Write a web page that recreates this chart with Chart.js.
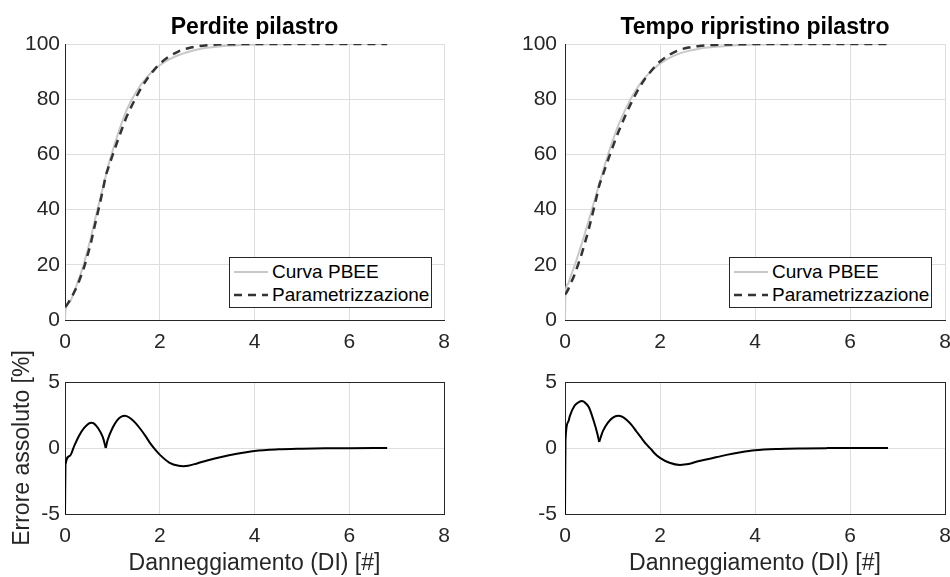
<!DOCTYPE html>
<html lang="it">
<head>
<meta charset="UTF-8">
<title>Perdite e tempo ripristino pilastro</title>
<script src="https://cdn.jsdelivr.net/npm/chart.js"></script>
<style>
  body { margin: 0; background: #fff; width: 950px; height: 577px; position: relative; overflow: hidden;
         font-family: Arial, "Liberation Sans", sans-serif; }
  canvas { position: absolute; }
  .legend { position: absolute; box-sizing: border-box; width: 203px; height: 51px; border: 1px solid #262626;
            background: #fff; font-size: 19px; color: #000; }
  .legend .row { position: absolute; left: 3px; height: 22px; display: flex; align-items: center; white-space: nowrap; }
  .legend svg { width: 35px; height: 10px; margin-right: 4px; }
</style>
</head>
<body>
<canvas id="topLeft" width="475" height="360" style="left:0;top:0"></canvas>
<canvas id="topRight" width="500" height="360" style="left:475px;top:0"></canvas>
<canvas id="botLeft" width="475" height="237" style="left:0;top:340px"></canvas>
<canvas id="botRight" width="500" height="237" style="left:475px;top:340px"></canvas>

<script>
// Perdite pilastro (left column)
const xLeft = [0, 0.01, 0.1, 0.2, 0.3, 0.4, 0.5, 0.56, 0.6, 0.7, 0.8, 0.86, 0.9, 1.0, 1.1, 1.2, 1.26, 1.3, 1.4, 1.5,
               1.6, 1.7, 1.8, 1.9, 2.0, 2.2, 2.4, 2.5, 2.6, 2.8, 3.0, 3.3, 3.6, 4.0, 4.5, 5.0, 5.5, 6.0, 6.8];
const pbeeLeft = [0, 3.6, 6.5, 10.5, 15.2, 20.5, 26.8, 30.8, 34, 41, 48, 52.2, 55, 61, 66.5, 71.5, 74.3, 76, 79.5, 82.5,
                  85.2, 87.4, 89.3, 90.9, 92.3, 94.4, 96, 96.6, 97.1, 98, 98.6, 99.2, 99.5, 99.8, 99.9, 100, 100, 100, 100];
const paramLeft = [4.8, 4.85, 7.1, 10.3, 14.25, 19.0, 24.95, 28.9, 32.1, 39.5, 47.2, 52.2, 54.4, 59.5, 64.4, 69.1, 71.85, 73.6, 77.3, 80.65,
                   83.8, 86.5, 88.95, 91.0, 92.8, 95.5, 97.35, 97.98, 98.45, 99.15, 99.55, 99.88, 99.95, 100, 100, 100, 100, 100, 100];
const errLeft = [-5, -1.25, -0.6, 0.2, 0.95, 1.5, 1.85, 1.91, 1.88, 1.5, 0.8, 0, 0.6, 1.5, 2.1, 2.4, 2.45, 2.42, 2.2, 1.85,
                 1.4, 0.9, 0.35, -0.1, -0.5, -1.1, -1.35, -1.38, -1.35, -1.15, -0.95, -0.68, -0.45, -0.22, -0.1, -0.05, -0.02, -0.01, 0];

// Tempo ripristino pilastro (right column)
const xRight = [0, 0.01, 0.07, 0.1, 0.2, 0.3, 0.35, 0.4, 0.5, 0.6, 0.68, 0.72, 0.76, 0.8, 0.9, 1.0, 1.12, 1.2, 1.3, 1.4,
                1.5, 1.6, 1.7, 1.8, 1.9, 2.0, 2.2, 2.42, 2.6, 2.8, 3.0, 3.4, 3.7, 4.0, 4.5, 5.0, 5.5, 6.0, 6.8];
const pbeeRight = [0, 9.9, 13.2, 14.8, 19.6, 24.8, 27.5, 30.3, 36, 42, 46.8, 49.2, 51.6, 54, 59.6, 64.8, 70.4, 73.6, 77.3, 80.6,
                   83.5, 86, 88.1, 89.9, 91.5, 92.9, 95, 96.6, 97.5, 98.2, 98.7, 99.3, 99.6, 99.8, 99.9, 100, 100, 100, 100];
const paramRight = [9.3, 9.4, 11.2, 12.4, 16.4, 21.3, 23.9, 26.8, 32.9, 39.9, 45.7, 48.7, 50.7, 52.7, 57.7, 62.5, 67.95, 71.2, 75.2, 78.85,
                    82.2, 85.2, 87.8, 89.95, 91.95, 93.65, 96.1, 97.9, 98.7, 99.2, 99.55, 99.8, 99.9, 100, 100, 100, 100, 100, 100];
const errRight = [-5, 0.6, 2.0, 2.4, 3.2, 3.5, 3.57, 3.5, 3.1, 2.1, 1.1, 0.46, 0.9, 1.3, 1.9, 2.28, 2.45, 2.38, 2.12, 1.75,
                  1.27, 0.8, 0.33, -0.05, -0.45, -0.75, -1.12, -1.28, -1.22, -1.0, -0.85, -0.52, -0.32, -0.17, -0.07, -0.03, -0.01, 0, 0];

// index of the kink in the error curves
const cuspLeft = 11;
const cuspRight = 11;

const xTicks = [0, 2, 4, 6, 8];
const titles = ['Perdite pilastro', 'Tempo ripristino pilastro'];
const xLabel = 'Danneggiamento (DI) [#]';
const yLabel = 'Errore assoluto [%]';
const seriesNames = ['Curva PBEE', 'Parametrizzazione'];

const FONT = 'Arial, "Liberation Sans", sans-serif';
const TXT = '#262626';
const GRID = '#dedede';
const AXIS = '#262626';

function pts(xs, ys) { return xs.map((x, i) => ({ x: x, y: ys[i] })); }

function curveSets(xs, pbee, param) {
  return [
    { label: seriesNames[0], data: pts(xs, pbee), borderColor: '#c8c8c8', borderWidth: 2, order: 1 },
    { label: seriesNames[1], data: pts(xs, param), borderColor: '#333333', borderWidth: 2.5, borderDash: [8, 6], order: 0 }
  ];
}

function errSets(xs, err, k) {
  // split at the kink so the corner stays sharp
  const a = pts(xs.slice(0, k + 1), err.slice(0, k + 1));
  const b = pts(xs.slice(k), err.slice(k));
  return [a, b].map(d => ({ data: d, borderColor: '#000', borderWidth: 2 }));
}

function makePanel(id, o) {
  const scales = {
    x: {
      type: 'linear', min: 0, max: 8,
      afterBuildTicks: s => { s.ticks = xTicks.map(v => ({ value: v })); },
      ticks: { padding: 10, maxRotation: 0, color: TXT, font: { family: FONT, size: 21 } },
      grid: { color: GRID, drawTicks: false },
      border: { color: AXIS, width: 1 },
      title: o.xTitle ? { display: true, text: o.xTitle, color: TXT, font: { family: FONT, size: 23 }, padding: { top: 0, bottom: 0 } } : { display: false },
      afterFit: s => { s.height = o.xH; }
    },
    y: {
      type: 'linear', min: o.yMin, max: o.yMax,
      ticks: { stepSize: o.yStep, padding: o.yPad, color: TXT, font: { family: FONT, size: 21 } },
      grid: { color: GRID, drawTicks: false },
      border: { color: AXIS, width: 1 },
      title: o.yTitle ? { display: true, text: o.yTitle, color: TXT, font: { family: FONT, size: 23 }, padding: { top: 9, bottom: 0 } } : { display: false },
      afterFit: s => { s.width = o.yW; }
    }
  };
  if (o.box) {
    scales.xTop = { type: 'linear', position: 'top', ticks: { display: false }, grid: { display: false },
                    border: { color: AXIS, width: 1 }, afterFit: s => { s.height = 0; } };
    scales.yRight = { type: 'linear', position: 'right', ticks: { display: false }, grid: { display: false },
                      border: { color: AXIS, width: 1 }, afterFit: s => { s.width = 0; } };
  }
  return new Chart(document.getElementById(id), {
    type: 'line',
    data: { datasets: o.datasets },
    options: {
      responsive: false,
      animation: false,
      devicePixelRatio: 1,
      layout: { padding: { top: o.padTop, right: o.padRight, left: 0, bottom: 0 } },
      elements: { point: { radius: 0 }, line: { cubicInterpolationMode: 'monotone' } },
      plugins: {
        legend: { display: false },
        tooltip: { enabled: false },
        title: o.title ? {
          display: true, text: o.title, color: '#000', fullSize: false,
          font: { family: FONT, size: 23, weight: 'bold' }, padding: { top: 13.5, bottom: 2.9 }
        } : { display: false }
      },
      scales: scales
    }
  });
}

function htmlLegend(chart, left, top) {
  const box = document.createElement('div');
  box.className = 'legend';
  box.style.left = left + 'px';
  box.style.top = top + 'px';
  chart.data.datasets.forEach((ds, i) => {
    const row = document.createElement('div');
    row.className = 'row';
    row.style.top = (i === 0 ? 2.7 : 26) + 'px';
    const dash = ds.borderDash ? ds.borderDash.join(',') : 'none';
    row.innerHTML = '<svg viewBox="0 0 35 10"><line x1="1" y1="5" x2="35" y2="5" stroke="' + ds.borderColor +
      '" stroke-width="' + ds.borderWidth + '" stroke-dasharray="' + dash + '"/></svg><span>' + ds.label + '</span>';
    box.appendChild(row);
  });
  document.body.appendChild(box);
}

const tl = makePanel('topLeft', { datasets: curveSets(xLeft, pbeeLeft, paramLeft), yMin: 0, yMax: 100, yStep: 20,
  title: titles[0], yW: 65, yPad: 5, xH: 40, padTop: 0, padRight: 31 });
const tr = makePanel('topRight', { datasets: curveSets(xRight, pbeeRight, paramRight), yMin: 0, yMax: 100, yStep: 20,
  title: titles[1], yW: 90, yPad: 8, xH: 40, padTop: 0, padRight: 30 });
makePanel('botLeft', { datasets: errSets(xLeft, errLeft, cuspLeft), yMin: -5, yMax: 5, yStep: 5,
  xTitle: xLabel, yTitle: yLabel, yW: 65, yPad: 5, xH: 63, padTop: 42, padRight: 31, box: true });
makePanel('botRight', { datasets: errSets(xRight, errRight, cuspRight), yMin: -5, yMax: 5, yStep: 5,
  xTitle: xLabel, yW: 90, yPad: 8, xH: 63, padTop: 42, padRight: 30, box: true });

htmlLegend(tl, 229, 257);
htmlLegend(tr, 729, 257);
</script>
</body>
</html>
